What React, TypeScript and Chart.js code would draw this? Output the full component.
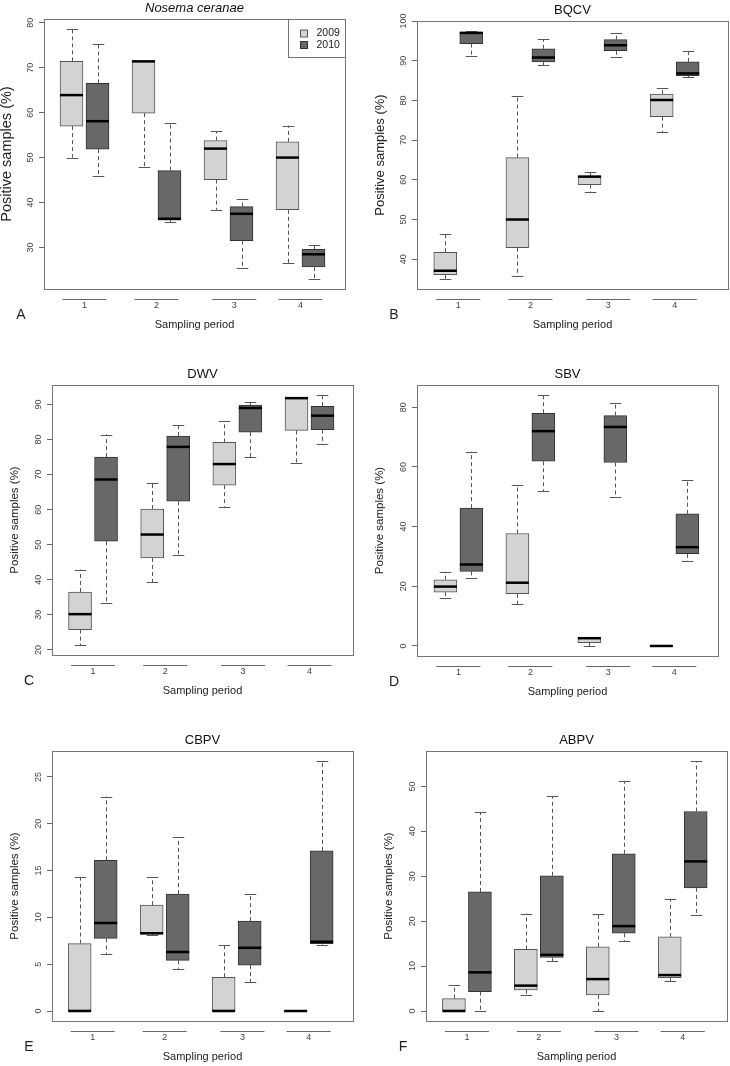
import React, { useEffect, useRef } from 'react';
import { Chart, registerables } from 'chart.js';

Chart.register(...registerables);

const FONT = '"Liberation Sans", Arial, Helvetica, sans-serif';

const periods = ['1', '2', '3', '4'];
const periodAxisPositions = [1, 2, 3.08, 4];
const years = ['2009', '2010'];
const yAxisTitle = 'Positive samples (%)';
const xAxisTitle = 'Sampling period';

// each box: [lower whisker, Q1, median, Q3, upper whisker], one per sampling period
const nosema2009 = [
  [50.0, 57.0, 63.9, 71.4, 78.6],
  [48.0, 59.9, 71.4, 71.5, 71.5],
  [38.4, 45.1, 52.0, 53.8, 55.9],
  [26.6, 38.4, 50.0, 53.5, 57.1],
];
const nosema2010 = [
  [45.8, 51.9, 58.1, 66.5, 75.2],
  [35.7, 36.1, 36.4, 47.1, 57.8],
  [25.5, 31.5, 37.5, 39.1, 40.7],
  [23.0, 25.7, 28.5, 29.6, 30.6],
];
const bqcv2009 = [
  [35.0, 36.1, 37.1, 41.75, 46.4],
  [35.8, 42.9, 50.0, 65.6, 81.1],
  [56.9, 58.8, 60.8, 61.0, 61.9],
  [72.0, 75.9, 80.1, 81.6, 83.2],
];
const bqcv2010 = [
  [91.3, 94.3, 97.0, 97.2, 97.5],
  [88.8, 89.7, 90.8, 93.0, 95.4],
  [91.0, 92.5, 93.9, 95.3, 97.0],
  [85.8, 86.2, 86.8, 89.7, 92.5],
];
const dwv2009 = [
  [21.4, 25.8, 30.2, 36.5, 42.9],
  [39.3, 46.2, 52.9, 60.2, 67.6],
  [60.8, 67.0, 73.0, 79.2, 85.3],
  [73.3, 82.6, 91.8, 91.9, 92.1],
];
const dwv2010 = [
  [33.3, 51.0, 68.6, 75.0, 81.4],
  [47.0, 62.4, 77.9, 81.0, 84.2],
  [75.0, 82.1, 89.0, 89.8, 90.8],
  [78.7, 82.8, 86.8, 89.5, 92.7],
];
const sbv2009 = [
  [16.2, 18.0, 19.9, 22.2, 24.9],
  [13.9, 17.5, 21.2, 37.7, 54.0],
  [0, 1.1, 2.6, 2.7, 2.7],
  [0, 0, 0, 0, 0],
];
const sbv2010 = [
  [22.8, 25.0, 27.3, 46.2, 65.1],
  [51.9, 61.9, 72.0, 78.0, 84.1],
  [49.9, 61.5, 73.4, 77.2, 81.4],
  [28.4, 30.9, 33.1, 44.3, 55.5],
];
const cbpv2009 = [
  [0, 0, 0, 7.2, 14.3],
  [8.1, 8.2, 8.3, 11.3, 14.3],
  [0, 0, 0, 3.6, 7.1],
  [0, 0, 0, 0, 0],
];
const cbpv2010 = [
  [6.1, 7.75, 9.4, 16.1, 22.9],
  [4.5, 5.4, 6.3, 12.5, 18.6],
  [3.1, 4.9, 6.75, 9.6, 12.5],
  [7.1, 7.2, 7.4, 17.1, 26.7],
];
const abpv2009 = [
  [0, 0, 0, 2.75, 5.7],
  [3.6, 4.7, 5.65, 13.7, 21.7],
  [0, 3.6, 7.1, 14.3, 21.7],
  [6.7, 7.4, 8.0, 16.5, 25.0],
];
const abpv2010 = [
  [0, 4.3, 8.6, 26.5, 44.2],
  [11.1, 11.9, 12.5, 30.1, 47.8],
  [15.6, 17.3, 18.9, 35.0, 51.2],
  [21.4, 27.4, 33.3, 44.4, 55.65],
];

const nosemaTicks = [30, 40, 50, 60, 70, 80];
const bqcvTicks = [40, 50, 60, 70, 80, 90, 100];
const dwvTicks = [20, 30, 40, 50, 60, 70, 80, 90];
const sbvTicks = [0, 20, 40, 60, 80];
const cbpvTicks = [0, 5, 10, 15, 20, 25];
const abpvTicks = [0, 10, 20, 30, 40, 50];

// ---- layout / style (page pixels) ----
type Rect = { x: number; y: number; w: number; h: number };
type Plot = { l: number; t: number; r: number; b: number };
type PanelDef = {
  title: string;
  italic: boolean;
  letter: string;
  d09: number[][];
  d10: number[][];
  ticks: number[];
  legend: boolean;
  canvas: Rect;
  plot: Plot;
  xRange: [number, number];
  yTitleSize: number;
};

const PANELS: PanelDef[] = [
  {
    title: 'Nosema ceranae', italic: true, letter: 'A', d09: nosema2009, d10: nosema2010, ticks: nosemaTicks, legend: true,
    canvas: { x: 0, y: 0, w: 365, h: 340 }, plot: { l: 44, t: 19, r: 345, b: 289 }, xRange: [0.4375, 4.618], yTitleSize: 14.5,
  },
  {
    title: 'BQCV', italic: false, letter: 'B', d09: bqcv2009, d10: bqcv2010, ticks: bqcvTicks, legend: false,
    canvas: { x: 365, y: 0, w: 365, h: 340 }, plot: { l: 417, t: 21, r: 728, b: 289 }, xRange: [0.428, 4.739], yTitleSize: 13,
  },
  {
    title: 'DWV', italic: false, letter: 'C', d09: dwv2009, d10: dwv2010, ticks: dwvTicks, legend: false,
    canvas: { x: 0, y: 340, w: 365, h: 360 }, plot: { l: 52, t: 385, r: 353, b: 655 }, xRange: [0.431, 4.603], yTitleSize: 11.5,
  },
  {
    title: 'SBV', italic: false, letter: 'D', d09: sbv2009, d10: sbv2010, ticks: sbvTicks, legend: false,
    canvas: { x: 365, y: 340, w: 365, h: 360 }, plot: { l: 417, t: 385, r: 718, b: 656 }, xRange: [0.425, 4.606], yTitleSize: 11.5,
  },
  {
    title: 'CBPV', italic: false, letter: 'E', d09: cbpv2009, d10: cbpv2010, ticks: cbpvTicks, legend: false,
    canvas: { x: 0, y: 700, w: 365, h: 366 }, plot: { l: 52, t: 751, r: 353, b: 1021 }, xRange: [0.435, 4.616], yTitleSize: 11.5,
  },
  {
    title: 'ABPV', italic: false, letter: 'F', d09: abpv2009, d10: abpv2010, ticks: abpvTicks, legend: false,
    canvas: { x: 365, y: 700, w: 365, h: 366 }, plot: { l: 426, t: 751, r: 727, b: 1021 }, xRange: [0.431, 4.616], yTitleSize: 11.5,
  },
];

const LIGHT = '#D3D3D3';
const DARK = '#686868';
const LIGHT_BORDER = '#555555';
const DARK_BORDER = '#333333';
const FRAME = '#777777';
const WHISKER = '#555555';
const TICK_FONT = 9;

// R-style range: data range extended by 4% on each side
function rRange(boxes: number[][]): [number, number] {
  const all = boxes.flat();
  const lo = Math.min(...all);
  const hi = Math.max(...all);
  const pad = (hi - lo) * 0.04;
  return [lo - pad, hi + pad];
}

function line(ctx: CanvasRenderingContext2D, x1: number, y1: number, x2: number, y2: number) {
  ctx.beginPath();
  ctx.moveTo(x1, y1);
  ctx.lineTo(x2, y2);
  ctx.stroke();
}

function makeBoxPlugin(panel: PanelDef) {
  return {
    id: 'rBoxplot' + panel.letter,
    afterDatasetsDraw(chart: any) {
      const { ctx, chartArea } = chart;
      const ys = chart.scales.y;
      const xs = chart.scales.x;
      ctx.save();
      [panel.d09, panel.d10].forEach((boxes, di) => {
        const meta = chart.getDatasetMeta(di);
        boxes.forEach((b, i) => {
          const el = meta.data[i];
          if (!el) return;
          const cx = Math.round(el.x) + 0.5;
          const w = el.width;
          const [lo, q1, med, q3, hi] = b;
          const pLo = ys.getPixelForValue(lo);
          const pQ1 = ys.getPixelForValue(q1);
          const pMed = ys.getPixelForValue(med);
          const pQ3 = ys.getPixelForValue(q3);
          const pHi = ys.getPixelForValue(hi);
          ctx.strokeStyle = WHISKER;
          ctx.lineWidth = 1;
          ctx.setLineDash([4, 3]);
          if (hi > q3) line(ctx, cx, pQ3, cx, pHi);
          if (lo < q1) line(ctx, cx, pQ1, cx, pLo);
          ctx.setLineDash([]);
          line(ctx, cx - w / 4, Math.round(pHi) + 0.5, cx + w / 4, Math.round(pHi) + 0.5);
          line(ctx, cx - w / 4, Math.round(pLo) + 0.5, cx + w / 4, Math.round(pLo) + 0.5);
          ctx.strokeStyle = '#000000';
          ctx.lineWidth = 2.5;
          line(ctx, el.x - w / 2, pMed, el.x + w / 2, pMed);
        });
      });

      // plot frame
      ctx.strokeStyle = FRAME;
      ctx.lineWidth = 1;
      ctx.strokeRect(
        Math.round(chartArea.left) + 0.5,
        Math.round(chartArea.top) + 0.5,
        Math.round(chartArea.right - chartArea.left),
        Math.round(chartArea.bottom - chartArea.top)
      );

      // R-style group axis segments under each sampling period
      ctx.strokeStyle = '#666666';
      const segY = Math.round(chartArea.bottom) + 10.5;
      periodAxisPositions.forEach((p) => {
        const px = xs.getPixelForValue(p);
        line(ctx, px - 22, segY, px + 22, segY);
      });

      // panel letter
      ctx.fillStyle = '#222222';
      ctx.font = `14px ${FONT}`;
      ctx.textAlign = 'center';
      ctx.textBaseline = 'middle';
      ctx.fillText(panel.letter, chartArea.left - 23, chartArea.bottom + 26);

      // legend (top-right, boxed)
      if (panel.legend) {
        const lw = 57;
        const lh = 38;
        const lx = Math.round(chartArea.right) - lw;
        const ly = Math.round(chartArea.top);
        ctx.fillStyle = '#ffffff';
        ctx.fillRect(lx, ly, lw, lh);
        ctx.strokeStyle = FRAME;
        ctx.strokeRect(lx + 0.5, ly + 0.5, lw, lh);
        const fills = [LIGHT, DARK];
        const borders = [LIGHT_BORDER, DARK_BORDER];
        years.forEach((yr, k) => {
          const cy = ly + 14.5 + k * 11.5;
          ctx.fillStyle = fills[k];
          ctx.fillRect(lx + 13, cy - 3, 6, 6);
          ctx.strokeStyle = borders[k];
          ctx.strokeRect(lx + 12.5, cy - 3.5, 7, 7);
          ctx.fillStyle = '#222222';
          ctx.font = `10.5px ${FONT}`;
          ctx.textAlign = 'left';
          ctx.textBaseline = 'middle';
          ctx.fillText(yr, lx + 28.5, cy);
        });
      }
      ctx.restore();
    },
  };
}

function buildConfig(panel: PanelDef): any {
  const { canvas, plot } = panel;
  const [yMin, yMax] = rRange([...panel.d09, ...panel.d10]);
  const maxLen = Math.max(...panel.ticks.map((t) => String(t).length));
  const yTickPad = 8 - (maxLen * 0.556 * TICK_FONT) / 2;
  const yTitlePad = Math.max(0, plot.l - canvas.x - 37 - panel.yTitleSize / 2);
  const xTitleSize = 11;
  const xTitlePad = canvas.y + canvas.h - plot.b - 36 - xTitleSize / 2;
  const titleSize = 13;
  const titleBottom = 4.5;
  const titleTop = plot.t - canvas.y - titleSize - titleBottom;

  const toBars = (boxes: number[][]) => boxes.map((b, i) => ({ x: i + 1, y: [b[1], b[3]] }));

  return {
    type: 'bar',
    data: {
      datasets: [
        {
          label: years[0],
          data: toBars(panel.d09),
          backgroundColor: LIGHT,
          borderColor: LIGHT_BORDER,
          borderWidth: 1,
          borderSkipped: false,
          barThickness: 26,
          maxBarThickness: 23,
        },
        {
          label: years[1],
          data: toBars(panel.d10),
          backgroundColor: DARK,
          borderColor: DARK_BORDER,
          borderWidth: 1,
          borderSkipped: false,
          barThickness: 26,
          maxBarThickness: 23,
        },
      ],
    },
    options: {
      animation: false,
      responsive: false,
      maintainAspectRatio: false,
      events: [],
      layout: { padding: { left: 0, top: 0, bottom: 0, right: canvas.x + canvas.w - plot.r } },
      plugins: {
        legend: { display: false },
        tooltip: { enabled: false },
        title: {
          display: true,
          text: panel.title,
          fullSize: false,
          color: '#111111',
          font: { family: FONT, size: titleSize, style: panel.italic ? 'italic' : 'normal', weight: 'normal', lineHeight: 1 },
          padding: { top: titleTop, bottom: titleBottom },
        },
      },
      scales: {
        x: {
          type: 'linear',
          min: panel.xRange[0],
          max: panel.xRange[1],
          offset: false,
          afterBuildTicks: (s: any) => {
            s.ticks = periodAxisPositions.map((v) => ({ value: v }));
          },
          afterFit: (s: any) => {
            s.height = canvas.y + canvas.h - plot.b;
          },
          grid: { display: false, drawTicks: false, offset: false },
          border: { display: false },
          ticks: {
            autoSkip: false,
            minRotation: 0,
            maxRotation: 0,
            padding: 11,
            color: '#444444',
            font: { family: FONT, size: TICK_FONT },
            callback: (_v: any, i: number) => periods[i],
          },
          title: {
            display: true,
            text: xAxisTitle,
            color: '#222222',
            font: { family: FONT, size: xTitleSize, lineHeight: 1 },
            padding: { top: 0, bottom: xTitlePad },
          },
        },
        y: {
          type: 'linear',
          min: yMin,
          max: yMax,
          beginAtZero: false,
          afterBuildTicks: (s: any) => {
            s.ticks = panel.ticks.map((v) => ({ value: v }));
          },
          afterFit: (s: any) => {
            s.width = plot.l - canvas.x;
          },
          grid: { display: true, drawOnChartArea: false, drawTicks: true, tickLength: 5, color: '#666666' },
          border: { display: false },
          ticks: {
            autoSkip: false,
            minRotation: 90,
            maxRotation: 90,
            crossAlign: 'center',
            padding: yTickPad,
            color: '#444444',
            font: { family: FONT, size: TICK_FONT },
            callback: (v: any) => String(v),
          },
          title: {
            display: true,
            text: yAxisTitle,
            color: '#222222',
            font: { family: FONT, size: panel.yTitleSize, lineHeight: 1 },
            padding: { top: yTitlePad, bottom: 0 },
          },
        },
      },
    },
    plugins: [makeBoxPlugin(panel)],
  };
}

function Panel({ panel }: { panel: PanelDef }) {
  const ref = useRef<HTMLCanvasElement>(null);
  useEffect(() => {
    if (!ref.current) return;
    const chart = new Chart(ref.current, buildConfig(panel));
    return () => chart.destroy();
  }, [panel]);
  const c = panel.canvas;
  return (
    <canvas
      ref={ref}
      width={c.w}
      height={c.h}
      style={{ position: 'absolute', left: c.x, top: c.y, width: c.w, height: c.h, display: 'block' }}
    />
  );
}

export default function App() {
  return (
    <div
      style={{
        position: 'absolute',
        left: 0,
        top: 0,
        width: 730,
        height: 1066,
        background: '#ffffff',
        overflow: 'hidden',
      }}
    >
      {PANELS.map((p) => (
        <Panel key={p.letter} panel={p} />
      ))}
    </div>
  );
}
